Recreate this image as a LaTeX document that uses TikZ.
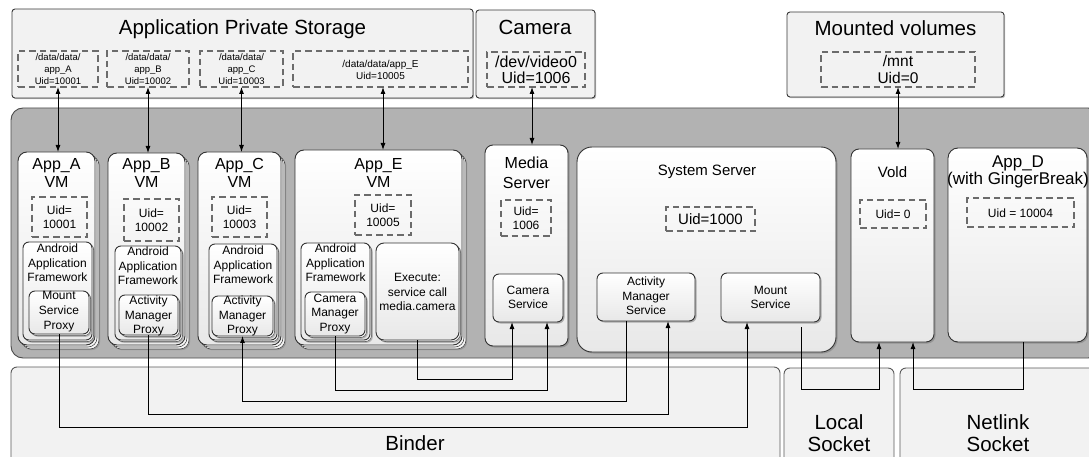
\documentclass[tikz,border=0pt]{standalone}
\usepackage{fontspec}
\setmainfont{Liberation Sans}
\usetikzlibrary{shadows,arrows.meta,calc}
\newcommand\myfs[2]{\fontsize{#1}{#2}\selectfont}
\newcommand\mkbox[6]{\node[#2, anchor=north west, minimum width={(#5)-(#3)}, minimum height={(#6)-(#4)}] (#1) at (#3,#4) {};}
\tikzset{
 base/.style={rectangle, inner sep=0pt, outer sep=0pt},
 topbox/.style={base, draw=black!78, line width=0.9pt, fill=black!5, rounded corners=3pt,
   drop shadow={shadow xshift=1.2pt, shadow yshift=-1.2pt, opacity=0.5}},
 dbox/.style={base, draw=black!58, line width=1.1pt, dash pattern=on 6.5pt off 4pt},
 wbox/.style={base, draw=black!80, line width=0.9pt, top color=white, bottom color=black!9, rounded corners=#1,
   drop shadow={shadow xshift=1.5pt, shadow yshift=-1.5pt, opacity=0.6}},
 wbox/.default=8pt,
 vmbox/.style={base, draw=black!80, line width=0.9pt, top color=white, bottom color=black!9, rounded corners=9pt,
   drop shadow={shadow xshift=5.2pt, shadow yshift=-5.2pt, opacity=0.5},
   double copy shadow={shadow xshift=2pt, shadow yshift=-2pt, fill=black!4, draw=black!70, line width=0.6pt}},
 inbox/.style={base, draw=black!80, line width=0.9pt, top color=white, bottom color=black!9, rounded corners=#1,
   drop shadow={shadow xshift=2.8pt, shadow yshift=-2.8pt, opacity=0.5},
   copy shadow={shadow xshift=1.5pt, shadow yshift=-1.5pt, fill=black!4, draw=black!70, line width=0.5pt}},
 inbox/.default=6pt,
 graybox/.style={base, draw=black!70, line width=0.9pt, fill=black!30, rounded corners=12pt},
 sockbox/.style={base, draw=black!65, line width=0.9pt, fill=black!5, rounded corners=6pt},
 lbl/.style={inner sep=0pt, outer sep=0pt, align=center, text=black},
 arr/.style={line width=0.9pt, draw=black, -{Latex[length=7pt,width=5pt]}},
 darr/.style={line width=0.9pt, draw=black, {Latex[length=7pt,width=5pt]}-{Latex[length=7pt,width=5pt]}},
}
\begin{document}
\begin{tikzpicture}[x=1pt,y=-1pt]
\useasboundingbox (0,0) rectangle (1089,457);
\clip (0,0) rectangle (1089,457);
% ---------------- top storage boxes
\mkbox{aps}{topbox}{12}{9}{473}{98}
\node[lbl,font=\myfs{20.5}{23}] (tAPS) at (242.5,29) {Application Private Storage};
\mkbox{dA}{dbox}{18}{51}{98}{87}
\node[lbl,font=\myfs{9.5}{12}] (tdA) at (58,69) {/data/data/\\app\_A\\Uid=10001};
\mkbox{dB}{dbox}{107}{51}{189}{87}
\node[lbl,font=\myfs{9.5}{12}] (tdB) at (148,69) {/data/data/\\app\_B\\Uid=10002};
\mkbox{dC}{dbox}{200}{51}{283}{87}
\node[lbl,font=\myfs{9.5}{12}] (tdC) at (241.5,69) {/data/data/\\app\_C\\Uid=10003};
\mkbox{dE}{dbox}{293}{51}{468}{87}
\node[lbl,font=\myfs{10}{12}] (tdE) at (380.5,69.5) {/data/data/app\_E\\Uid=10005};

\mkbox{cam}{topbox}{476}{10}{595}{98}
\node[lbl,font=\myfs{20.5}{23}] (tcam) at (535,27) {Camera};
\mkbox{dCam}{dbox}{487}{52}{585}{87}
\node[lbl,font=\myfs{16}{16.5}] (tdCam) at (536,70) {/dev/video0\\Uid=1006};

\mkbox{mnt}{topbox}{787}{12}{1004}{97}
\node[lbl,font=\myfs{20.5}{23}] (tmnt) at (895.5,28) {Mounted volumes};
\mkbox{dMnt}{dbox}{821}{52}{975}{87}
\node[lbl,font=\myfs{15.5}{17}] (tdMnt) at (898,69) {/mnt\\Uid=0};

% ---------------- main gray area
\mkbox{gray}{graybox}{11}{108}{1100}{358}

% App_A
\mkbox{vmA}{vmbox}{18}{152}{95}{345}
\node[lbl,font=\myfs{16}{18}] (tvA) at (56.5,173) {App\_A\\VM};
\mkbox{uA}{dbox}{32}{197}{87}{237}
\node[lbl,font=\myfs{12}{14}] (tuA) at (59.5,217) {Uid=\\10001};
\mkbox{fA}{inbox}{23}{242}{92}{340}
\node[lbl,font=\myfs{12}{14.5}] (tfA) at (57.5,263) {Android\\Application\\Framework};
\mkbox{pA}{inbox}{29}{291}{89}{334}
\node[lbl,font=\myfs{12}{15}] (tpA) at (59,312) {Mount\\Service\\Proxy};

% App_B
\mkbox{vmB}{vmbox}{108}{153}{185}{345}
\node[lbl,font=\myfs{16}{18}] (tvB) at (146.5,173) {App\_B\\VM};
\mkbox{uB}{dbox}{124}{199}{179}{241}
\node[lbl,font=\myfs{12}{14}] (tuB) at (151.5,220) {Uid=\\10002};
\mkbox{fB}{inbox}{115}{246}{181}{340}
\node[lbl,font=\myfs{12}{14.5}] (tfB) at (148,266) {Android\\Application\\Framework};
\mkbox{pB}{inbox}{119}{295}{178}{335}
\node[lbl,font=\myfs{12}{14.5}] (tpB) at (148.5,316) {Activity\\Manager\\Proxy};

% App_C
\mkbox{vmC}{vmbox}{198}{152}{281}{345}
\node[lbl,font=\myfs{16}{18}] (tvC) at (239.5,173) {App\_C\\VM};
\mkbox{uC}{dbox}{212}{197}{267}{237}
\node[lbl,font=\myfs{12}{14}] (tuC) at (239.5,217) {Uid=\\10003};
\mkbox{fC}{inbox}{209}{244}{277}{340}
\node[lbl,font=\myfs{12}{14.5}] (tfC) at (243,265) {Android\\Application\\Framework};
\mkbox{pC}{inbox}{212}{296}{273}{336}
\node[lbl,font=\myfs{12}{14.5}] (tpC) at (242.5,316) {Activity\\Manager\\Proxy};

% App_E
\mkbox{vmE}{vmbox}{295}{150}{462}{345}
\node[lbl,font=\myfs{16}{18}] (tvE) at (378.5,173) {App\_E\\VM};
\mkbox{uE}{dbox}{355}{195}{411}{235}
\node[lbl,font=\myfs{12}{14}] (tuE) at (383,215) {Uid=\\10005};
\mkbox{fE}{inbox}{301}{243}{370}{340}
\node[lbl,font=\myfs{12}{14.5}] (tfE) at (335.5,263) {Android\\Application\\Framework};
\mkbox{pE}{inbox}{305}{292}{365}{336}
\node[lbl,font=\myfs{12}{14.5}] (tpE) at (335,314) {Camera\\Manager\\Proxy};
\mkbox{xE}{inbox=8pt}{376}{243}{459}{340}
\node[lbl,font=\myfs{12}{14.5}] (txE) at (417.5,292) {Execute:\\service call\\media.camera};

% Media Server
\mkbox{ms}{wbox}{485}{145}{568}{346}
\node[lbl,font=\myfs{16}{20}] (tms) at (526.5,173) {Media\\Server};
\mkbox{uM}{dbox}{501}{200}{551}{236}
\node[lbl,font=\myfs{12}{14}] (tuM) at (526,218) {Uid=\\1006};
\mkbox{cs}{wbox=6pt}{493}{274}{563}{322}
\node[lbl,font=\myfs{12}{14}] (tcs) at (528,297) {Camera\\Service};

% System Server
\mkbox{ss}{wbox=15pt}{577}{147}{836}{352}
\node[lbl,font=\myfs{15}{17}] (tss) at (707,172) {System Server};
\mkbox{uS}{dbox}{666}{207}{755}{231}
\node[lbl,font=\myfs{15}{17}] (tuS) at (710.5,219) {Uid=1000};
\mkbox{ams}{wbox=6pt}{597}{273}{695}{321}
\node[lbl,font=\myfs{12}{14.5}] (tams) at (646,296) {Activity\\Manager\\Service};
\mkbox{mts}{wbox=6pt}{721}{273}{820}{322}
\node[lbl,font=\myfs{12}{14}] (tmts) at (770.5,297) {Mount\\Service};

% Vold
\mkbox{vd}{wbox}{851}{149}{934}{342}
\node[lbl,font=\myfs{15}{17}] (tvd) at (892.5,172) {Vold};
\mkbox{uV}{dbox}{860}{200}{926}{228}
\node[lbl,font=\myfs{12}{14}] (tuV) at (893,214) {Uid= 0};

% App_D
\mkbox{ad}{wbox=10pt}{948}{148}{1087}{342}
\node[lbl,font=\myfs{17}{17}] (tad) at (1018,172) {App\_D\\(with GingerBreak)};
\mkbox{uD}{dbox}{967}{198}{1074}{227}
\node[lbl,font=\myfs{12}{14}] (tuD) at (1020.5,213) {Uid = 10004};

% ---------------- bottom transport boxes
\mkbox{binder}{sockbox}{11}{367}{780}{475}
\node[lbl,font=\myfs{20.5}{23}] (tbinder) at (415,443) {Binder};
\mkbox{local}{sockbox}{784}{368}{894}{475}
\node[lbl,font=\myfs{20.5}{22.5}] (tlocal) at (839,433) {Local\\Socket};
\mkbox{netlink}{sockbox}{900}{368}{1100}{475}
\node[lbl,font=\myfs{20.5}{22.5}] (tnet) at (998,433) {Netlink\\Socket};

% ---------------- connectors top
\coordinate (eS) at ([xshift=2.5pt]dE.south);
\coordinate (camS) at ([xshift=-4pt]dCam.south);
\draw[darr] (dA.south) -- (dA.south |- vmA.north);
\draw[darr] (dB.south) -- (dB.south |- vmB.north);
\draw[darr] (dC.south) -- (dC.south |- vmC.north);
\draw[darr] (eS) -- (eS |- vmE.north);
\draw[darr] (camS) -- (camS |- ms.north);
\draw[darr] (dMnt.south) -- (dMnt.south |- vd.north);

% ---------------- connectors bottom
\coordinate (y1) at (0,379);
\coordinate (y2) at (0,390);
\coordinate (y3) at (0,401);
\coordinate (y4) at (0,414);
\coordinate (y5) at (0,427);
\coordinate (y6) at (0,389);
\coordinate (csL) at ([xshift=-16pt]cs.south);
\coordinate (csR) at ([xshift=19pt]cs.south);
\coordinate (amsL) at ([xshift=-20pt]ams.south);
\coordinate (amsR) at ([xshift=22pt]ams.south);
\coordinate (mtsL) at ([xshift=-23.5pt]mts.south);
\coordinate (mtsR) at ([xshift=30.5pt,yshift=-5pt]mts.south);
\coordinate (vdL) at ([xshift=-13.5pt]vd.south);
\coordinate (vdR) at ([xshift=20.5pt]vd.south);
\coordinate (adS) at ([xshift=5.5pt]ad.south);
\draw[arr] (xE.south) -- (xE.south |- y1) -| (csL);
\draw[arr] (pE.south) -- (pE.south |- y2) -| (csR);
\draw[arr] (amsL) -- (amsL |- y3) -| (pC.south);
\draw[arr] (pB.south) -- (pB.south |- y4) -| (amsR);
\draw[arr] (pA.south) -- (pA.south |- y5) -| (mtsL);
\draw[arr] (mtsR) -- (mtsR |- y6) -| (vdL);
\draw[arr] (adS) -- (adS |- y6) -| (vdR);
\end{tikzpicture}
\end{document}
